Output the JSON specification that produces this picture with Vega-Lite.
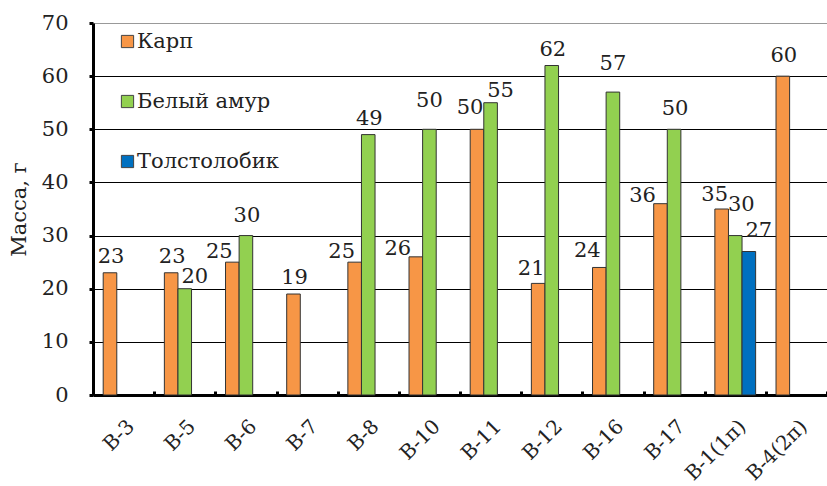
{
  "$schema": "https://vega.github.io/schema/vega-lite/v6.json",
  "autosize": {"type": "none"},
  "padding": {"left": 93, "top": 23, "right": 0, "bottom": 91},
  "width": 734,
  "height": 372,
  "background": "white",
  "config": {
    "view": {"stroke": null},
    "font": "DejaVu Serif",
    "text": {"font": "DejaVu Serif", "fontSize": 21, "color": "#222", "baseline": "alphabetic"},
    "axis": {"labelFont": "DejaVu Serif", "titleFont": "DejaVu Serif", "labelColor": "#222", "titleColor": "#222"},
    "legend": {"labelFont": "DejaVu Serif"}
  },
  "data": {
    "values": [
      {"site": "В-3", "species": "Карп", "mass": 23},
      {"site": "В-5", "species": "Карп", "mass": 23},
      {"site": "В-5", "species": "Белый амур", "mass": 20},
      {"site": "В-6", "species": "Карп", "mass": 25},
      {"site": "В-6", "species": "Белый амур", "mass": 30},
      {"site": "В-7", "species": "Карп", "mass": 19},
      {"site": "В-8", "species": "Карп", "mass": 25},
      {"site": "В-8", "species": "Белый амур", "mass": 49},
      {"site": "В-10", "species": "Карп", "mass": 26},
      {"site": "В-10", "species": "Белый амур", "mass": 50},
      {"site": "В-11", "species": "Карп", "mass": 50},
      {"site": "В-11", "species": "Белый амур", "mass": 55},
      {"site": "В-12", "species": "Карп", "mass": 21},
      {"site": "В-12", "species": "Белый амур", "mass": 62},
      {"site": "В-16", "species": "Карп", "mass": 24},
      {"site": "В-16", "species": "Белый амур", "mass": 57},
      {"site": "В-17", "species": "Карп", "mass": 36},
      {"site": "В-17", "species": "Белый амур", "mass": 50},
      {"site": "В-1(1п)", "species": "Карп", "mass": 35},
      {"site": "В-1(1п)", "species": "Белый амур", "mass": 30},
      {"site": "В-1(1п)", "species": "Толстолобик", "mass": 27},
      {"site": "В-4(2п)", "species": "Карп", "mass": 60}
    ]
  },
  "encoding": {
    "x": {
      "field": "site", "type": "nominal", "sort": null,
      "scale": {"paddingInner": 0, "paddingOuter": 0},
      "axis": {
        "title": null, "labelAngle": -45, "labelFontSize": 20, "labelPadding": 25,
        "tickBand": "extent", "tickSize": -4, "tickWidth": 3, "tickColor": "#000",
        "domainColor": "#000", "domainWidth": 3
      }
    },
    "xOffset": {
      "field": "species", "type": "nominal",
      "scale": {"domain": ["Карп", "Белый амур", "Толстолобик"], "paddingInner": 0, "paddingOuter": 0.75}
    },
    "y": {
      "field": "mass", "type": "quantitative",
      "scale": {"domain": [0, 70], "nice": false},
      "axis": {
        "title": "Масса, г", "titleFontSize": 21, "titleFontWeight": "normal", "titlePadding": 12,
        "values": [0, 10, 20, 30, 40, 50, 60, 70], "labelFontSize": 21, "labelPadding": 21,
        "tickSize": 4, "tickWidth": 3, "tickColor": "#000",
        "domainColor": "#000", "domainWidth": 3,
        "grid": true, "gridWidth": 1,
        "gridColor": {"condition": {"test": "datum.value == 70", "value": "#999"}, "value": "#000"}
      }
    }
  },
  "layer": [
    {
      "mark": {"type": "bar", "stroke": "#333", "strokeWidth": 1},
      "encoding": {
        "color": {
          "field": "species", "type": "nominal",
          "scale": {"domain": ["Карп", "Белый амур", "Толстолобик"], "range": ["#F79646", "#92D050", "#0070C0"]},
          "legend": {
            "title": null, "orient": "none", "legendX": 24, "legendY": 8,
            "symbolType": "square", "symbolSize": 150, "symbolStrokeColor": "#444", "symbolStrokeWidth": 1,
            "labelFontSize": 21, "labelColor": "#222", "rowPadding": 38, "labelOffset": -1
          }
        }
      }
    },
    {
      "transform": [{"filter": "indexof(['В-3|Карп','В-5|Карп','В-7|Карп','В-8|Белый амур','В-12|Белый амур'], datum.site + '|' + datum.species) >= 0"}],
      "mark": {"type": "text", "dx": 1, "dy": -10},
      "encoding": {"text": {"field": "mass", "type": "quantitative"}}
    },
    {
      "transform": [{"filter": "indexof(['В-6|Белый амур','В-17|Белый амур','В-4(2п)|Карп'], datum.site + '|' + datum.species) >= 0"}],
      "mark": {"type": "text", "dx": 1, "dy": -14},
      "encoding": {"text": {"field": "mass", "type": "quantitative"}}
    },
    {
      "transform": [{"filter": "indexof(['В-10|Белый амур','В-16|Белый амур'], datum.site + '|' + datum.species) >= 0"}],
      "mark": {"type": "text", "dx": 0, "dy": -22},
      "encoding": {"text": {"field": "mass", "type": "quantitative"}}
    },
    {
      "transform": [{"filter": "indexof(['В-10|Карп','В-17|Карп'], datum.site + '|' + datum.species) >= 0"}],
      "mark": {"type": "text", "dx": -18, "dy": -2},
      "encoding": {"text": {"field": "mass", "type": "quantitative"}}
    },
    {
      "transform": [{"filter": "indexof(['В-6|Карп','В-8|Карп'], datum.site + '|' + datum.species) >= 0"}],
      "mark": {"type": "text", "dx": -13, "dy": -4},
      "encoding": {"text": {"field": "mass", "type": "quantitative"}}
    },
    {
      "transform": [{"filter": "indexof(['В-16|Карп'], datum.site + '|' + datum.species) >= 0"}],
      "mark": {"type": "text", "dx": -12, "dy": -10},
      "encoding": {"text": {"field": "mass", "type": "quantitative"}}
    },
    {
      "transform": [{"filter": "indexof(['В-12|Карп','В-1(1п)|Карп'], datum.site + '|' + datum.species) >= 0"}],
      "mark": {"type": "text", "dx": -7, "dy": -8},
      "encoding": {"text": {"field": "mass", "type": "quantitative"}}
    },
    {
      "transform": [{"filter": "indexof(['В-11|Карп'], datum.site + '|' + datum.species) >= 0"}],
      "mark": {"type": "text", "dx": -7, "dy": -15},
      "encoding": {"text": {"field": "mass", "type": "quantitative"}}
    },
    {
      "transform": [{"filter": "indexof(['В-5|Белый амур','В-11|Белый амур'], datum.site + '|' + datum.species) >= 0"}],
      "mark": {"type": "text", "dx": 10, "dy": -6},
      "encoding": {"text": {"field": "mass", "type": "quantitative"}}
    },
    {
      "transform": [{"filter": "indexof(['В-1(1п)|Белый амур'], datum.site + '|' + datum.species) >= 0"}],
      "mark": {"type": "text", "dx": 6, "dy": -25},
      "encoding": {"text": {"field": "mass", "type": "quantitative"}}
    },
    {
      "transform": [{"filter": "indexof(['В-1(1п)|Толстолобик'], datum.site + '|' + datum.species) >= 0"}],
      "mark": {"type": "text", "dx": 10, "dy": -15},
      "encoding": {"text": {"field": "mass", "type": "quantitative"}}
    }
  ]
}
